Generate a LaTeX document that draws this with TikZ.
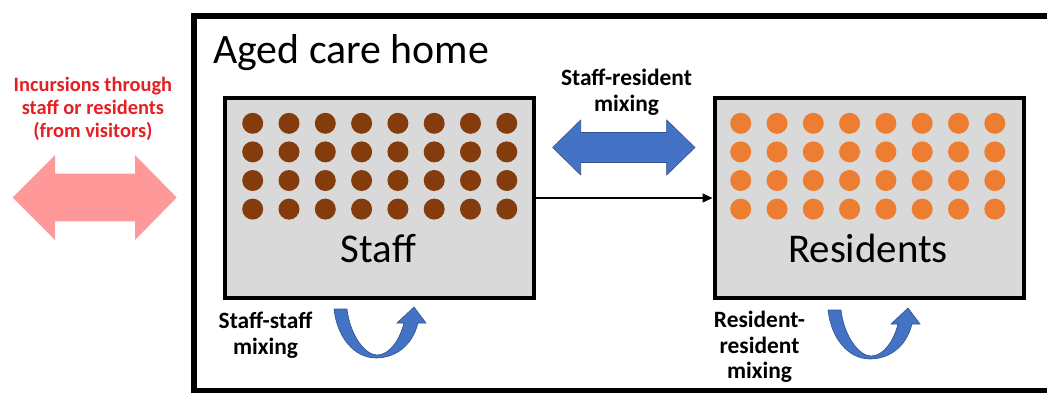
\documentclass[tikz,border=0pt]{standalone}
\usepackage{fontspec}
\setmainfont{Carlito}
\usetikzlibrary{arrows.meta}
\definecolor{boxgray}{RGB}{217,217,217}
\definecolor{staffdot}{RGB}{132,60,12}
\definecolor{resdot}{RGB}{237,125,49}
\definecolor{mixblue}{RGB}{68,114,196}
\definecolor{mixblueline}{RGB}{47,82,143}
\definecolor{incpink}{RGB}{255,153,153}
\definecolor{incred}{RGB}{228,32,36}
\tikzset{
  groupbox/.style={draw=black, line width=4bp, fill=boxgray, minimum width=309bp, minimum height=200bp, inner sep=0pt},
  biglabel/.style={font=\fontsize{41}{48}\selectfont, inner sep=0pt, anchor=base},
  mixlabel/.style={font=\bfseries\fontsize{23.5}{25.5}\selectfont, align=center, inner sep=0pt, anchor=base},
  inclabel/.style={font=\bfseries\fontsize{20.5}{23.3}\selectfont, text=incred, align=center, inner sep=0pt, anchor=base},
  uturn/.pic={
    \fill[mixblue, draw=mixblueline, line width=0.6bp]
      (0,0) -- (13,0)
      .. controls (16,26) and (31,46) .. (43,46)
      .. controls (56,46) and (66,30) .. (70,14)
      -- (63,14) -- (80,-2) -- (92,14) -- (84,14)
      .. controls (78,38) and (60,49) .. (42,49)
      .. controls (20,49) and (3,28) .. (0,0) -- cycle;
  }
}
\begin{document}
\begin{tikzpicture}[x=1bp, y=-1bp]
\useasboundingbox (0,0) rectangle (1047,392);
\clip (0,0) rectangle (1047,392);
% outer aged care home box
\draw[line width=6bp] (193.7,16.3) rectangle (1070,391);
\node[anchor=base west, inner sep=0pt, font=\fontsize{42}{48}\selectfont] (title) at (213,63) {Aged care home};
% group boxes
\node[groupbox] (staff) at (379.5,198) {};
\node[groupbox] (res) at (869,198) {};
\foreach \i in {0,...,7} {
  \foreach \j in {0,...,3} {
    \fill[staffdot] ({252.7+36.3*\i},{123.3+28.6*\j}) circle (10.5bp);
    \fill[resdot] ({740.7+36.3*\i},{123.3+28.6*\j}) circle (10.5bp);
  }
}
\node[biglabel] (stafflabel) at (378.5,262) {Staff};
\node[biglabel] (reslabel) at (868,262) {Residents};
% staff to residents arrow
\draw[line width=1.3bp, -{Triangle[length=10bp,width=9bp]}] (staff.east) -- (res.west);
% staff-resident mixing double arrow
\fill[mixblue, draw=mixblueline, line width=0.6bp]
  (552.7,147.5) -- (580.7,120) -- (580.7,132.5) -- (666.7,132.5) -- (666.7,120)
  -- (695,147.5) -- (666.7,175) -- (666.7,162.5) -- (580.7,162.5) -- (580.7,175) -- cycle;
\node[mixlabel] (srlabel) at (626.5,111) {Staff-resident\\mixing};
% incursions double arrow
\fill[incpink]
  (12.7,197.5) -- (55,155) -- (55,173.7) -- (135,173.7) -- (135,155)
  -- (176.7,197.5) -- (135,240) -- (135,221.3) -- (55,221.3) -- (55,240) -- cycle;
\node[inclabel] (inclabel) at (92.9,137.5) {Incursions through\\staff or residents\\(from visitors)};
% within-group mixing
\pic at (334,309) {uturn};
\pic at (828,310) {uturn};
\node[mixlabel] (sslabel) at (265.5,354) {Staff-staff\\mixing};
\node[mixlabel] (rrlabel) at (759.5,378.5) {Resident-\\resident\\mixing};
\end{tikzpicture}
\end{document}
